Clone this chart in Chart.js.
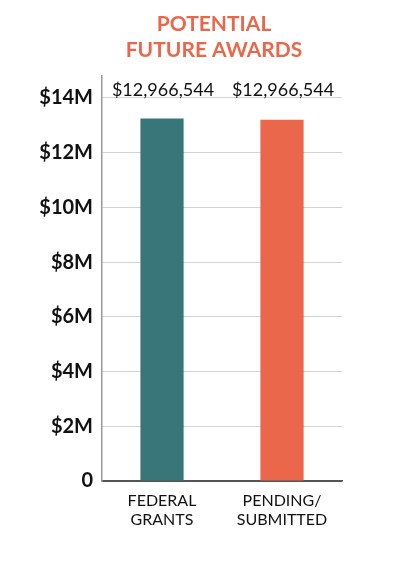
<!DOCTYPE html>
<html>
<head>
<meta charset="utf-8">
<script src="https://cdn.jsdelivr.net/npm/chart.js@4"></script>
<style>
  html, body { margin: 0; padding: 0; background: #ffffff; }
  #wrap { width: 393px; height: 565px; position: relative; }
</style>
</head>
<body>
<div id="wrap"><canvas id="c" width="393" height="565"></canvas></div>
<script>
const titleLines = ['POTENTIAL', 'FUTURE AWARDS'];
const categories = [['FEDERAL', 'GRANTS'], ['PENDING/', 'SUBMITTED']];
const values = [13250000, 13200000];
const valueLabels = ['$12,966,544', '$12,966,544'];
const barColors = ['#38767a', '#eb674b'];
const yTickValues = [0, 2000000, 4000000, 6000000, 8000000, 10000000, 12000000, 14000000];
const yTickLabels = ['0', '$2M', '$4M', '$6M', '$8M', '$10M', '$12M', '$14M'];

const FONT = 'Lato, "Open Sans", sans-serif';

const titlePlugin = {
  id: 'centeredTitle',
  afterDraw(chart) {
    const ctx = chart.ctx;
    ctx.save();
    ctx.font = 'bold 21px ' + FONT;
    ctx.fillStyle = '#eb674b';
    ctx.textAlign = 'center';
    ctx.textBaseline = 'middle';
    titleLines.forEach((t, i) => ctx.fillText(t, 214, 24 + i * 26));
    ctx.restore();
  }
};

const labelPlugin = {
  id: 'topLabels',
  afterDatasetsDraw(chart) {
    const ctx = chart.ctx;
    const y = chart.scales.y.getPixelForValue(14000000) + 1;
    const meta = chart.getDatasetMeta(0);
    ctx.save();
    ctx.font = '18px ' + FONT;
    ctx.fillStyle = '#111111';
    ctx.textAlign = 'center';
    ctx.textBaseline = 'bottom';
    meta.data.forEach((bar, i) => {
      ctx.fillText(valueLabels[i], bar.x + 1, y);
    });
    ctx.restore();
  }
};

new Chart(document.getElementById('c'), {
  type: 'bar',
  data: {
    labels: categories,
    datasets: [{
      data: values,
      backgroundColor: barColors,
      borderWidth: 0,
      barPercentage: 0.36,
      categoryPercentage: 1
    }]
  },
  options: {
    responsive: false,
    animation: false,
    devicePixelRatio: 1,
    layout: { padding: { left: 0, right: 51, top: 76, bottom: 24 } },
    plugins: {
      legend: { display: false },
      tooltip: { enabled: false },
      title: { display: false }
    },
    scales: {
      x: {
        grid: { display: false, drawTicks: false },
        border: { display: true, color: '#555555', width: 1.5 },
        ticks: {
          color: '#111111',
          padding: 10,
          font: { family: FONT, size: 16, lineHeight: 1.2 }
        },
        afterFit(scale) { scale.height = 60; }
      },
      y: {
        min: 0,
        max: 14800000,
        grid: {
          drawTicks: false,
          color: (c) => (c.tick && c.tick.value === 0) ? '#555555' : '#d2d2d2',
          lineWidth: 1
        },
        border: { display: true, color: '#9a9a9a', width: 1.5 },
        ticks: {
          padding: 9,
          color: '#111111',
          font: { family: FONT, size: 20, weight: 'bold' },
          callback: (v) => {
            const i = yTickValues.indexOf(v);
            return i >= 0 ? yTickLabels[i] : null;
          }
        },
        afterBuildTicks(scale) {
          scale.ticks = yTickValues.map(v => ({ value: v }));
        },
        afterFit(scale) { scale.width = 102; }
      }
    }
  },
  plugins: [labelPlugin, titlePlugin]
});
</script>
</body>
</html>
